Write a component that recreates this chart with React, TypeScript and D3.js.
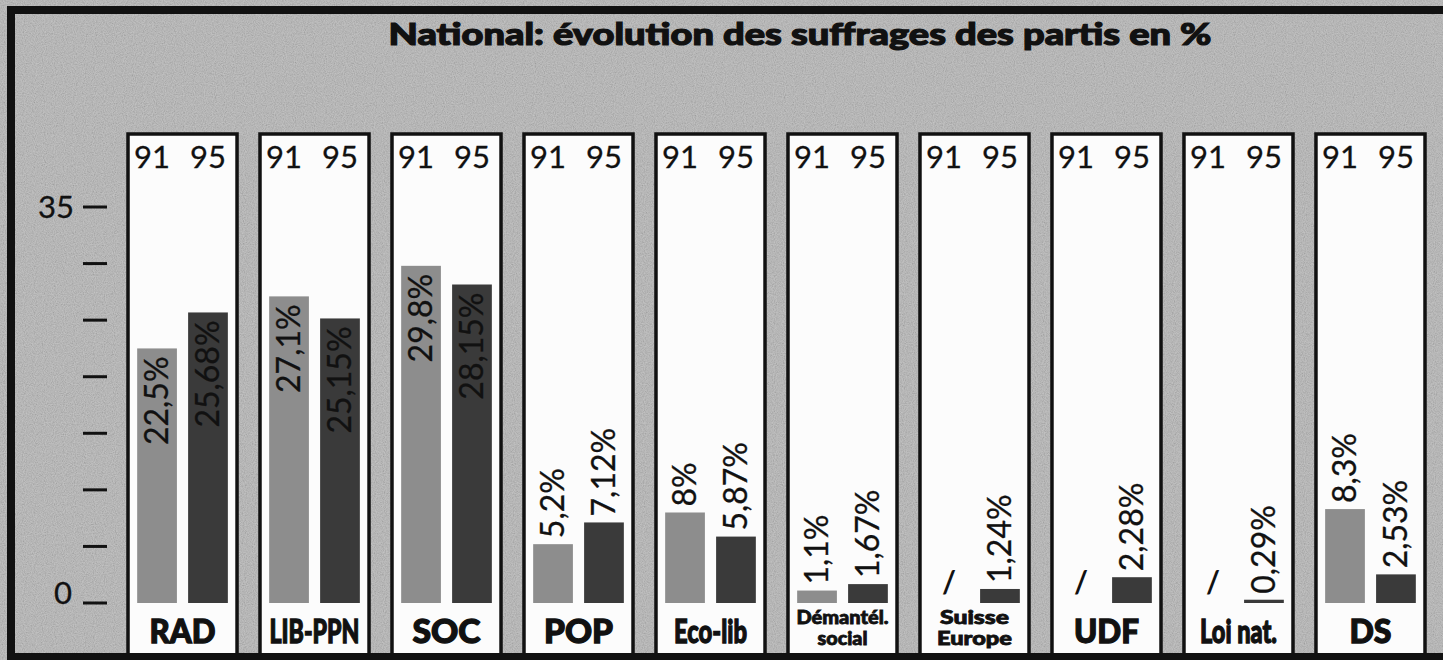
import React from 'react';
import * as d3 from 'd3';

// data
const parties = ['RAD', 'LIB-PPN', 'SOC', 'POP', 'Eco-lib', 'Démantél.|social', 'Suisse|Europe', 'UDF', 'Loi nat.', 'DS'];
const years = ['91', '95'];
const votes91 = [22.5, 27.1, 29.8, 5.2, 8, 1.1, null, null, null, 8.3];
const votes95 = [25.68, 25.15, 28.15, 7.12, 5.87, 1.67, 1.24, 2.28, 0.29, 2.53];
const yTicks = [0, 5, 10, 15, 20, 25, 30, 35];
const yTickLabels = ['0', '', '', '', '', '', '', '35'];

// label widths (the print face is condensed)
const labelWidth = {
  RAD: 66, 'LIB-PPN': 90, SOC: 68, POP: 69, 'Eco-lib': 73,
  'Démantél.': 92, social: 50, Suisse: 69, Europe: 75,
  UDF: 65, 'Loi nat.': 77, DS: 42,
};

const W = 1443;
const H = 660;
const FONT = 'Lato, "Open Sans", sans-serif';

const fmt = (v) => String(v).replace('.', ',') + '%';

const App = () => {
  const x = d3.scaleBand().domain(parties).range([128, 1425]).paddingInner(0.174);
  const xi = d3.scaleBand().domain(years).range([0, x.bandwidth()]).paddingInner(0.22).paddingOuter(0.18);
  const y = d3.scaleLinear().domain([0, 35]).range([603, 207]);

  const bgCol = '#b4b4b4';
  const col91 = '#8d8d8d';
  const col95 = '#3a3a3a';

  return (
    <svg width={W} height={H} style={{ position: 'absolute', left: 0, top: 0, display: 'block' }}>
      <defs>
        <filter id="grain" x="0" y="0" width="100%" height="100%">
          <feTurbulence type="fractalNoise" baseFrequency="0.9" numOctaves="2" seed="3" result="n" />
          <feColorMatrix in="n" type="matrix"
            values="1 0 0 0 0  1 0 0 0 0  1 0 0 0 0  0 0 0 0 0.25" />
        </filter>
      </defs>
      <rect x={0} y={0} width={W} height={H} fill={bgCol} />
      <rect x={0} y={0} width={W} height={H} filter="url(#grain)" />

      <text x={800} y={45} textAnchor="middle" fontFamily={FONT} fontWeight={900} fontSize={31}
        textLength={823} lengthAdjust="spacingAndGlyphs" fill="#111" stroke="#111" strokeWidth={1.2}>
        National: évolution des suffrages des partis en %
      </text>

      {/* y axis */}
      <g>
        {yTicks.map((t, i) => (
          <g key={t}>
            <line x1={83} x2={107} y1={y(t)} y2={y(t)} stroke="#111" strokeWidth={3} />
            {yTickLabels[i] && (
              <text x={t === 0 ? 72 : 74} y={t === 0 ? y(t) + 1 : y(t) + 11} textAnchor="end"
                fontFamily={FONT} fontSize={31} fill="#111" stroke="#111" strokeWidth={0.3}>
                {yTickLabels[i]}
              </text>
            )}
          </g>
        ))}
      </g>

      {parties.map((p, i) => {
        const x0 = x(p);
        const vals = [votes91[i], votes95[i]];
        const lines = p.split('|');
        return (
          <g key={p} transform={`translate(${x0},0)`}>
            <rect x={0} y={134} width={x.bandwidth()} height={H} fill="#fcfcfc" stroke="#111" strokeWidth={3.5} />
            <text x={xi('91') + xi.bandwidth() / 2 - 5} y={168} textAnchor="middle" fontFamily={FONT}
              fontSize={31} fill="#111" stroke="#111" strokeWidth={0.3}>91</text>
            <text x={xi('95') + xi.bandwidth() / 2} y={168} textAnchor="middle" fontFamily={FONT}
              fontSize={31} fill="#111" stroke="#111" strokeWidth={0.3}>95</text>
            {vals.map((v, j) => {
              const yr = years[j];
              const cx = xi(yr) + xi.bandwidth() / 2;
              if (v == null) {
                return (
                  <text key={yr} x={cx} y={593} textAnchor="middle" fontFamily={FONT} fontWeight={700}
                    fontSize={30} fill="#111">/</text>
                );
              }
              const top = y(v);
              const inside = v > 15;
              return (
                <g key={yr}>
                  <rect x={xi(yr)} y={top} width={xi.bandwidth()} height={y(0) - top}
                    fill={j === 0 ? col91 : col95} />
                  <text transform={`translate(${cx + 11},${inside ? top + 8 : top - 6}) rotate(-90)`}
                    textAnchor={inside ? 'end' : 'start'} fontFamily={FONT} fontSize={32} fill="#111"
                    stroke="#111" strokeWidth={0.3}>
                    {fmt(v)}
                  </text>
                </g>
              );
            })}
            {lines.length === 1 ? (
              <text x={x.bandwidth() / 2} y={643} textAnchor="middle" fontFamily={FONT} fontWeight={900}
                fontSize={33} fill="#111" stroke="#111" strokeWidth={1.3}
                textLength={labelWidth[p]} lengthAdjust="spacingAndGlyphs">
                {p}
              </text>
            ) : (
              lines.map((l, k) => (
                <text key={l} x={x.bandwidth() / 2} y={k === 0 ? 624 : 645} textAnchor="middle"
                  fontFamily={FONT} fontWeight={900} fontSize={18} fill="#111" stroke="#111" strokeWidth={0.8}
                  textLength={labelWidth[l]} lengthAdjust="spacingAndGlyphs">
                  {l}
                </text>
              ))
            )}
          </g>
        );
      })}

      {/* outer frame */}
      <rect x={11} y={10} width={W + 20} height={H - 13} fill="none" stroke="#111" strokeWidth={8} />
    </svg>
  );
};

export default App;
